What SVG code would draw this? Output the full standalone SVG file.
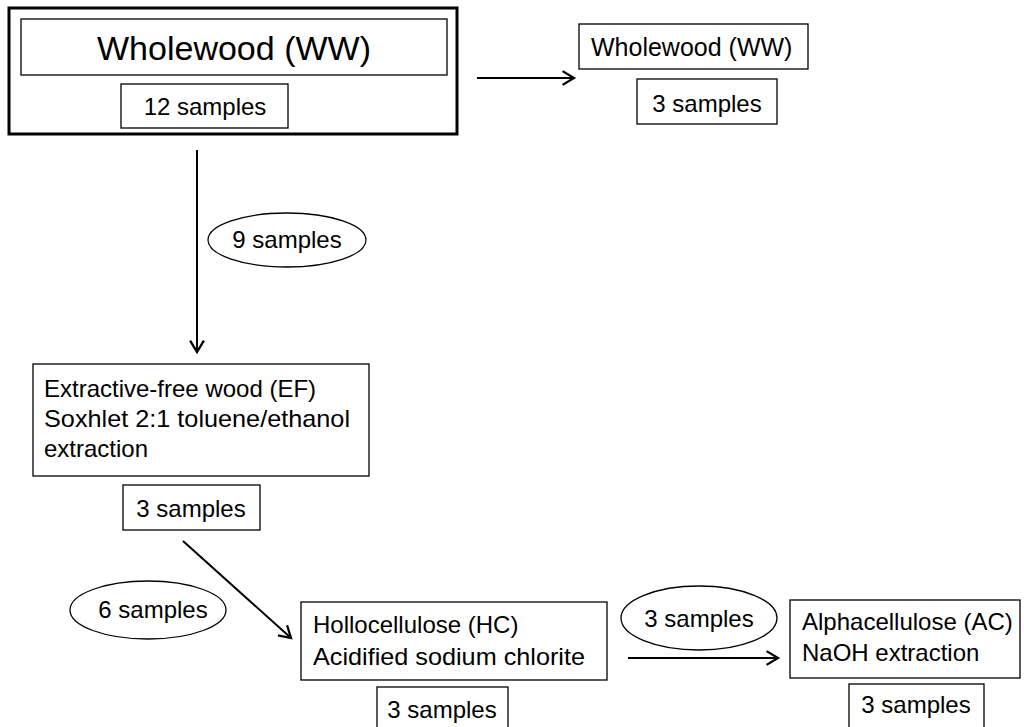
<svg xmlns="http://www.w3.org/2000/svg" width="1024" height="727" viewBox="0 0 1024 727">
<style>
.box{fill:#fff;stroke:#000;stroke-width:1.3}
.thick{fill:#fff;stroke:#000;stroke-width:3}
.ell{fill:#fff;stroke:#000;stroke-width:1.3}
.t{font-family:"Liberation Sans",Arial,sans-serif;font-size:24px;fill:#000}
.title{font-family:"Liberation Sans",Arial,sans-serif;font-size:34px;fill:#000}
.c{text-anchor:middle}
.conn{stroke:#000;stroke-width:2;fill:none}
</style>
<defs>
<marker id="arr" markerUnits="userSpaceOnUse" markerWidth="16" markerHeight="16" refX="11" refY="7" orient="auto" viewBox="0 0 14 14">
<path d="M1,1 L11,7 L1,13" fill="none" stroke="#000" stroke-width="2"/>
</marker>
</defs>
<rect width="1024" height="727" fill="#fff"/>
<g id="connectors">
<line class="conn" x1="477" y1="78" x2="574" y2="78" marker-end="url(#arr)"/>
<line class="conn" x1="197" y1="150" x2="197" y2="352" marker-end="url(#arr)"/>
<line class="conn" x1="183" y1="541" x2="291" y2="638" marker-end="url(#arr)"/>
<line class="conn" x1="628" y1="658" x2="778" y2="658" marker-end="url(#arr)"/>
</g>
<g id="ww-main">
<rect class="thick" x="9" y="8" width="448" height="126"/>
<rect class="box" x="21" y="19" width="426" height="56"/>
<text class="title c" x="234" y="60">Wholewood (WW)</text>
<rect class="box" x="121" y="84" width="167" height="44"/>
<text class="t c" x="205" y="115">12 samples</text>
</g>
<g id="ww-right">
<rect class="box" x="579" y="24" width="229" height="45"/>
<text class="t" x="591" y="56" style="font-size:25px">Wholewood (WW)</text>
<rect class="box" x="637" y="79" width="140" height="45"/>
<text class="t c" x="707" y="112">3 samples</text>
</g>
<g id="label-9">
<ellipse class="ell" cx="287" cy="240" rx="79" ry="27"/>
<text class="t c" x="287" y="248">9 samples</text>
</g>
<g id="ef">
<rect class="box" x="33" y="364" width="336" height="112"/>
<text class="t" x="44" y="397">Extractive-free wood (EF)</text>
<text class="t" x="44" y="427" textLength="306" lengthAdjust="spacingAndGlyphs">Soxhlet 2:1 toluene/ethanol</text>
<text class="t" x="44" y="457">extraction</text>
<rect class="box" x="123" y="485" width="137" height="45"/>
<text class="t c" x="191" y="517">3 samples</text>
</g>
<g id="label-6">
<ellipse class="ell" cx="148" cy="610" rx="78" ry="29"/>
<text class="t c" x="153" y="618">6 samples</text>
</g>
<g id="hc">
<rect class="box" x="301" y="602" width="306" height="78"/>
<text class="t" x="313" y="633">Hollocellulose (HC)</text>
<text class="t" x="313" y="665" textLength="272" lengthAdjust="spacingAndGlyphs">Acidified sodium chlorite</text>
<rect class="box" x="377" y="687" width="131" height="45"/>
<text class="t c" x="442" y="718">3 samples</text>
</g>
<g id="label-3">
<ellipse class="ell" cx="699" cy="618" rx="78" ry="32"/>
<text class="t c" x="699" y="627">3 samples</text>
</g>
<g id="ac">
<rect class="box" x="790" y="600" width="230" height="78"/>
<text class="t" x="802" y="630">Alphacellulose (AC)</text>
<text class="t" x="802" y="661">NaOH extraction</text>
<rect class="box" x="849" y="684" width="135" height="48"/>
<text class="t c" x="916" y="713">3 samples</text>
</g>
</svg>
